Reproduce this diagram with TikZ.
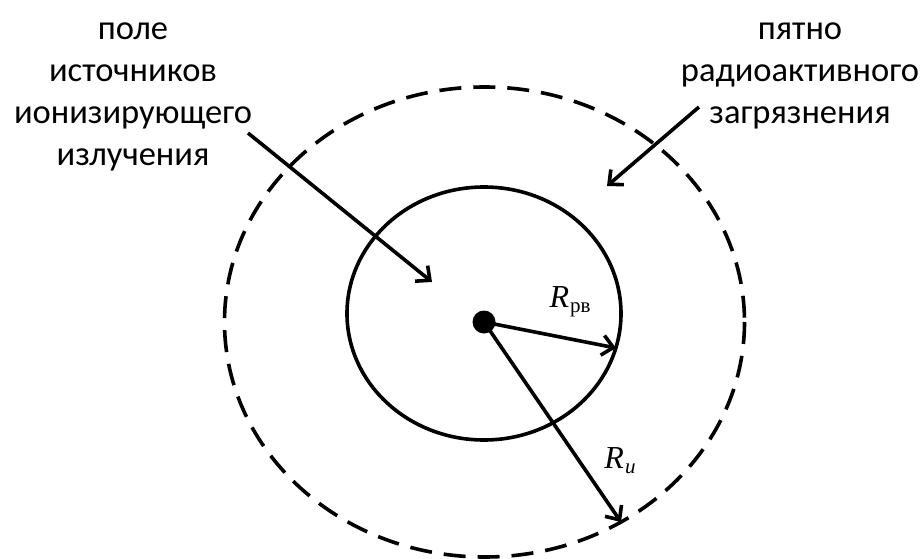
\documentclass[tikz,border=0pt]{standalone}
\usepackage{fontspec}
\setmainfont{Carlito}
\newfontfamily\rfont{Liberation Serif}
\usetikzlibrary{arrows.meta}
\begin{document}
\begin{tikzpicture}[x=1pt,y=-1pt,
  solidline/.style={line width=3.6pt},
  dashline/.style={line width=3.6pt, dash pattern=on 22pt off 12pt},
  arr/.style={line width=3.6pt,-{Straight Barb[length=11pt,width=20pt,line width=3.6pt]}},
  lbl/.style={align=center,font=\fontsize{34.5}{42}\selectfont, inner sep=0pt},
  rlab/.style={font=\fontsize{32}{34}\selectfont\rfont, inner sep=0pt}]
\useasboundingbox (0,0) rectangle (924,559);
\draw[solidline] (484,313.5) ellipse [x radius=137, y radius=126.5];
\draw[dashline] (484.5,322) ellipse [x radius=260, y radius=235];
\node[circle, fill=black, minimum size=23pt, inner sep=0pt] (c) at (484,322) {};
\coordinate (rpv) at (616,348);
\coordinate (ri) at (621,522);
\coordinate (a1s) at (248,133);
\coordinate (a1e) at (432,282);
\coordinate (a2s) at (699,107);
\coordinate (a2e) at (607,186);
\draw[arr] (c.center) -- (rpv);
\draw[arr] (c.center) -- (ri);
\draw[arr] (a1s) -- (a1e);
\draw[arr] (a2s) -- (a2e);
\node[lbl] (L1) at (133,97) {поле\\источников\\ионизирующего\\излучения};
\node[lbl] (L2) at (800,76) {пятно\\радиоактивного\\загрязнения};
\node[rlab] (Rpv) at (570,302) {\textit{R}\kern1pt\raisebox{-5pt}{\fontsize{21}{24}\selectfont рв}};
\node[rlab] (Ri) at (620,461) {\textit{R}\kern1pt\raisebox{-5pt}{\fontsize{21}{24}\selectfont\itshape и}};
\end{tikzpicture}
\end{document}
